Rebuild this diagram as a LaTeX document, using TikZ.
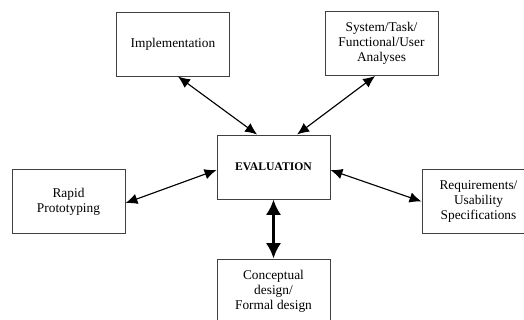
\documentclass[tikz,border=0pt]{standalone}
\usepackage{fontspec}
\setmainfont{Liberation Serif}
\usetikzlibrary{calc, arrows.meta}

\begin{document}
\begin{tikzpicture}[
    box/.style={draw=black!75, line width=0.7pt, minimum width=2.825cm, minimum height=1.6cm,
        inner sep=0pt, align=center, font=\fontsize{9.5}{10.6}\selectfont},
    link/.style={line width=0.8pt, {Latex[length=8.5pt,width=7.5pt]}-{Latex[length=8.5pt,width=7.5pt]}},
    biglink/.style={line width=2.4pt, {Latex[length=11pt,width=11pt]}-{Latex[length=11pt,width=11pt]}}]
                \clip (0,0) rectangle (13.1,8);
                \node[box] (impl) at (4.325,6.9) {Implementation};
                \node[box] (sys) at (9.5375,6.9125) {System/Task/\\Functional/User\\Analyses};
                \node[box, font=\fontsize{8.3}{10}\selectfont\bfseries] (eval) at (6.8375,3.825) {EVALUATION};
                \node[box] (rapid) at (1.7125,2.9625) {Rapid\\Prototyping};
                \node[box] (req) at (11.9625,2.9625) {Requirements/\\Usability\\Specifications};
                \node[box] (concept) at (6.8375,0.725) {Conceptual\\design/\\Formal design};
                \draw[link] ([xshift=0.125cm]impl.south)--([xshift=-0.41cm]eval.north);
                \draw[link] ([xshift=-0.16cm]sys.south)--([xshift=0.59cm]eval.north);
                \draw[link] ([yshift=-0.04cm]rapid.east)--([yshift=-0.075cm]eval.west);
                \draw[link] ([yshift=-0.075cm]eval.east)--(req.west);
                \draw[biglink] (eval.south)--(concept.north);
            \end{tikzpicture}
\end{document}
